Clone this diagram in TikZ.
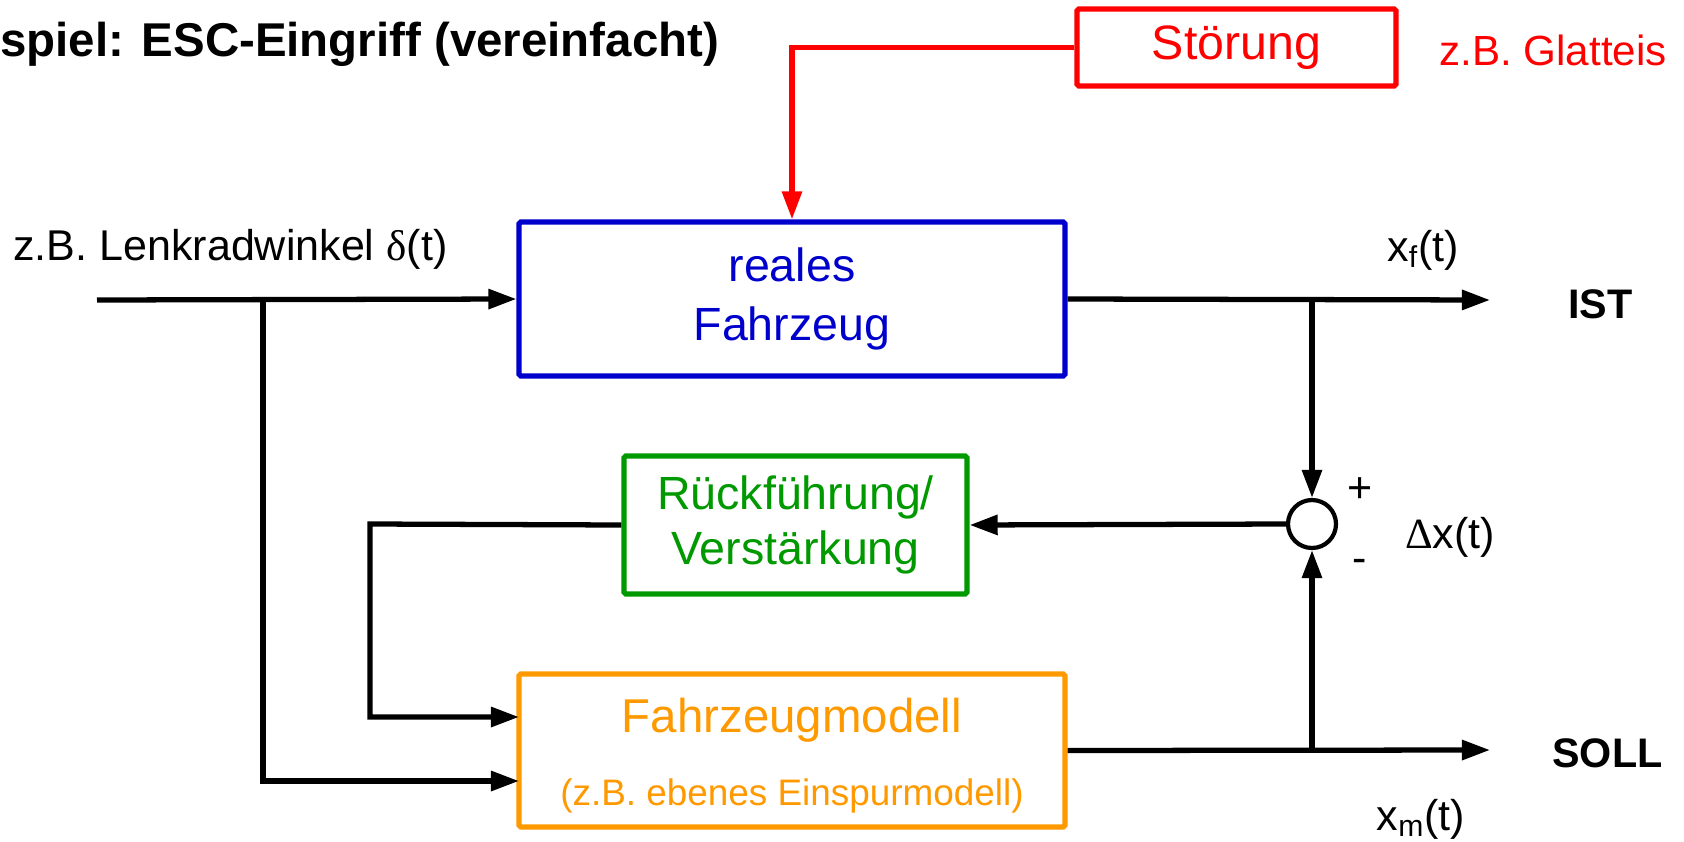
\documentclass[tikz,border=0pt]{standalone}
\usepackage{fontspec}
\setmainfont{Liberation Sans}
\newfontfamily\symfont{Liberation Serif}
\usetikzlibrary{arrows.meta}
\definecolor{cblue}{RGB}{0,0,204}
\definecolor{cgreen}{RGB}{0,153,0}
\definecolor{corange}{RGB}{255,153,0}
\definecolor{cred}{RGB}{255,0,0}
\begin{document}
\begin{tikzpicture}[x=0.02cm,y=-0.02cm,
  conn/.style={line width=3pt},
  arr/.style={conn,-{Triangle[length=16pt,width=11pt]}},
  blockbox/.style={draw,line width=3pt,rounded corners=1pt,inner sep=0pt,align=center},
  boxtext/.style={font=\fontsize{26.5}{33.5}\selectfont},
  lbl/.style={inner sep=0pt,font=\fontsize{24.5}{29}\selectfont},
  blbl/.style={inner sep=0pt,font=\fontsize{23.5}{28}\selectfont\bfseries}]
\useasboundingbox (0,0) rectangle (1684,842);
% title
\node[inner sep=0pt,anchor=base west,font=\fontsize{27}{32}\selectfont\bfseries] (title) at (0,56) {spiel: ESC-Eingriff (vereinfacht)};
% blocks
\node[blockbox,draw=cred,text=cred,minimum width=6.38cm,minimum height=1.54cm,font=\fontsize{27.5}{32}\selectfont] (stoer) at (1236.5,47.5) {St\"orung};
\node[lbl,anchor=base west,text=cred,font=\fontsize{24}{28}\selectfont] (glatt) at (1439,65) {z.B. Glatteis};
\node[blockbox,boxtext,draw=cblue,text=cblue,minimum width=10.92cm,minimum height=3.08cm] (real) at (792,299) {reales\\Fahrzeug};
\node[blockbox,boxtext,draw=cgreen,text=cgreen,minimum width=6.86cm,minimum height=2.76cm,font=\fontsize{26.5}{31}\selectfont] (rueck) at (795.5,525) {R\"uckf\"uhrung/\\Verst\"arkung};
\node[blockbox,draw=corange,minimum width=10.92cm,minimum height=3.06cm] (model) at (792,750.5) {};
\node[inner sep=0pt,anchor=base,text=corange,font=\fontsize{27}{32}\selectfont] (modt1) at (792,732) {Fahrzeugmodell};
\node[inner sep=0pt,anchor=base,text=corange,font=\fontsize{21}{25}\selectfont] (modt2) at (792,805) {(z.B. ebenes Einspurmodell)};
% summing point
\node[draw,circle,line width=2.4pt,minimum size=0.96cm,inner sep=0pt] (sum) at (1312,524) {};
% labels
\node[lbl,anchor=base west] (lenk) at (13,260) {z.B. Lenkradwinkel {\symfont δ}(t)};
\node[lbl,anchor=base] (xf) at (1423,261) {x\textsubscript{f}(t)};
\node[blbl,anchor=base west] (ist) at (1568,318) {IST};
\node[blbl,anchor=base west] (soll) at (1552,767) {SOLL};
\node[lbl,anchor=base] (xm) at (1421,830) {x\textsubscript{m}(t)};
\node[lbl] (plus) at (1360,490) {+};
\node[lbl] (minus) at (1360,566) {-};
\node[lbl,anchor=base] (dx) at (1450,548) {{\symfont Δ}x(t)};
% coordinates
\coordinate (in) at (97,300);
\coordinate (br1) at (263,300);
\coordinate (mi1) at (519,717);
\coordinate (mi2) at (519,781);
\coordinate (fb) at (370,524);
\coordinate (istend) at (1490,300);
\coordinate (sollend) at (1490,750);
\coordinate (brist) at (1312,300);
\coordinate (brsoll) at (1312,750);
% connectors
\draw[arr,cred] (stoer.west) -| (real.north);
\draw[arr] (in) -- (real.west);
\draw[arr] (br1) |- (mi2);
\draw[arr] (real.east) -- (istend);
\draw[arr] (brist) -- (sum.north);
\draw[arr] (sum.west) -- (rueck.east);
\draw[arr] (rueck.west) -- (fb) |- (mi1);
\draw[arr] (model.east) -- (sollend);
\draw[arr] (brsoll) -- (sum.south);
\end{tikzpicture}
\end{document}
